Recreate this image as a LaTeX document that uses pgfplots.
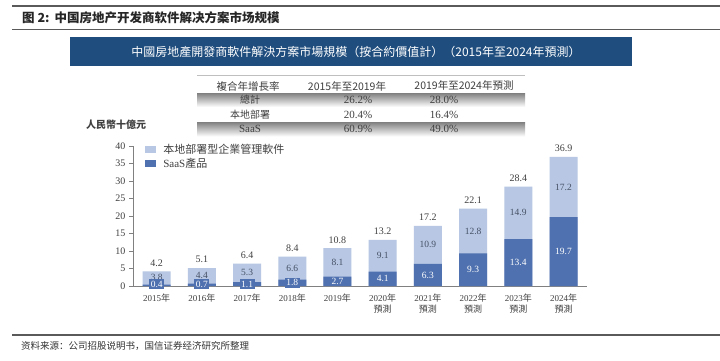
\documentclass[border=0pt]{standalone}
\usepackage{pgfplots}
\pgfplotsset{compat=1.18}
\usepackage{fontspec}
\setmainfont{Liberation Serif}
\newfontfamily\tcfont{Noto Sans CJK TC}
\newfontfamily\scfont{Noto Sans CJK SC}
\let\tc\tcfont
\definecolor{lightbar}{RGB}{183,199,228}
\definecolor{darkbar}{RGB}{79,113,175}
\definecolor{banner}{RGB}{31,77,126}
\definecolor{shade}{RGB}{232,237,245}
\definecolor{txt}{RGB}{64,64,64}
\definecolor{lbltxt}{RGB}{70,80,100}
\definecolor{rule}{RGB}{90,90,90}
\newcommand\Yr[1]{#1{\tc 年}}
\newcommand\Yp[1]{#1{\tc 年}\\{\tc 預測}}
\begin{document}
\begin{tikzpicture}[x=1pt,y=1pt]
\fill[white] (0,0) rectangle (720,360);
\path[use as bounding box] (0,0) rectangle (720,360);
% header
\draw[rule, line width=1.5pt] (12,354) -- (720,354);
\node[anchor=west, inner sep=0pt, text=black!85] at (22,342.5) {\scfont\bfseries\fontsize{12.5}{14}\selectfont 图 2:\hspace{5pt}中国房地产开发商软件解决方案市场规模};
\draw[rule, line width=1.2pt] (12,330.5) -- (720,330.5);
% banner
\fill[banner] (70,323) rectangle (632,294);
\node[text=white, inner sep=0pt] at (356,308.5) {\tc\fontsize{12}{13}\selectfont 中國房地產開發商軟件解決方案市場規模（按合約價值計）（2015年至2024年預測）};
% table
\draw[black!25, line width=0.6pt] (197,285) -- (525,285);
\fill[shade] (197,267) rectangle (525,253);
\fill[shade] (197,238) rectangle (525,223.5);
\begin{scope}[every node/.style={inner sep=0pt, text=txt}]
\node at (248,274) {\tc\fontsize{10.5}{12}\selectfont 複合年增長率};
\node at (347,274) {\tc\fontsize{10.5}{12}\selectfont 2015年至2019年};
\node at (464,274) {\tc\fontsize{10.5}{12}\selectfont 2019年至2024年預測};
\node at (250,260) {\tc\fontsize{10}{12}\selectfont 總計};
\node at (358,260) {\fontsize{11}{12}\selectfont 26.2\%};
\node at (444,260) {\fontsize{11}{12}\selectfont 28.0\%};
\node at (250,245) {\tc\fontsize{10}{12}\selectfont 本地部署};
\node at (358,245) {\fontsize{11}{12}\selectfont 20.4\%};
\node at (444,245) {\fontsize{11}{12}\selectfont 16.4\%};
\node at (250,231) {\fontsize{11}{12}\selectfont SaaS};
\node at (358,231) {\fontsize{11}{12}\selectfont 60.9\%};
\node at (444,231) {\fontsize{11}{12}\selectfont 49.0\%};
\node[anchor=west] at (86,235) {\tc\bfseries\fontsize{10}{12}\selectfont 人民幣十億元};
\end{scope}
% chart
\begin{axis}[
  at={(133pt,74pt)}, anchor=south west, scale only axis,
  width=454pt, height=140pt,
  xmin=-0.524, xmax=9.52, ymin=0, ymax=40,
  ytick={0,5,...,40}, xtick={0,...,9},
  xticklabels={\Yr{2015},\Yr{2016},\Yr{2017},\Yr{2018},\Yr{2019},{\Yp{2020}},{\Yp{2021}},{\Yp{2022}},{\Yp{2023}},{\Yp{2024}}},
  xticklabel style={align=center, font=\fontsize{9}{11.5}\selectfont, text=txt},
  yticklabel style={font=\fontsize{10}{11}\selectfont, text=txt},
  /pgf/number format/assume math mode=true,
  axis x line=bottom, axis y line=left,
  axis line style={-, black!50, line width=0.9pt},
  tick align=outside, major tick length=4pt,
  xtick style={draw=none}, ytick style={black!50, line width=0.7pt},
  clip=false,
  legend style={at={(0.02,1.045)}, anchor=north west, draw=none, fill=none,
    font=\fontsize{11}{12}\selectfont, text=txt, row sep=-1pt},
  legend cell align=left,
]
\addplot[ybar, bar width=28pt, bar shift=0pt, fill=lightbar, draw=none,
  legend image code/.code={\fill[lightbar] (0pt,-3.5pt) rectangle (11pt,3.5pt); \path (16pt,0pt);}]
  coordinates {(0,4.2) (1,5.1) (2,6.4) (3,8.4) (4,10.8) (5,13.2) (6,17.2) (7,22.1) (8,28.4) (9,36.9)};
\addlegendentry{{\tc 本地部署型企業管理軟件}}
\addplot[ybar, bar width=28pt, bar shift=0pt, fill=darkbar, draw=none,
  legend image code/.code={\fill[darkbar] (0pt,-3.5pt) rectangle (11pt,3.5pt); \path (16pt,0pt);}]
  coordinates {(0,0.4) (1,0.7) (2,1.1) (3,1.8) (4,2.7) (5,4.1) (6,6.3) (7,9.3) (8,13.4) (9,19.7)};
\addlegendentry{SaaS{\tc 產品}}
% on-premise labels
\addplot[forget plot, draw=none, mark=none, nodes near coords, point meta=explicit symbolic,
  every node near coord/.append style={anchor=center, font=\fontsize{9.5}{10}\selectfont, text=lbltxt}]
  coordinates {(0,2.4)[3.8] (1,2.9)[4.4] (2,3.75)[5.3] (3,5.1)[6.6] (4,6.75)[8.1] (5,8.65)[9.1] (6,11.75)[10.9] (7,15.7)[12.8] (8,20.9)[14.9] (9,28.3)[17.2]};
% SaaS labels
\addplot[forget plot, draw=none, mark=none, nodes near coords, point meta=explicit symbolic,
  every node near coord/.append style={anchor=center, font=\fontsize{9.5}{10}\selectfont, text=white, fill=darkbar, inner sep=1.5pt}]
  coordinates {(0,0.57)[0.4] (1,0.57)[0.7] (2,0.57)[1.1] (3,0.9)[1.8] (4,1.35)[2.7] (5,2.05)[4.1] (6,3.15)[6.3] (7,4.65)[9.3] (8,6.7)[13.4] (9,9.85)[19.7]};
% totals
\addplot[forget plot, draw=none, mark=none, nodes near coords, point meta=explicit symbolic,
  every node near coord/.append style={anchor=center, font=\fontsize{10}{11}\selectfont, text=txt}]
  coordinates {(0,6.6)[4.2] (1,7.5)[5.1] (2,8.8)[6.4] (3,10.8)[8.4] (4,13.2)[10.8] (5,15.6)[13.2] (6,19.6)[17.2] (7,24.5)[22.1] (8,30.8)[28.4] (9,39.3)[36.9]};
\end{axis}
% footer
\draw[rule, line width=1.2pt] (12,25) -- (720,25);
\node[anchor=west, inner sep=0pt, text=black!80] at (21,14) {\scfont\fontsize{9.5}{11}\selectfont 资料来源：公司招股说明书，国信证券经济研究所整理};
\end{tikzpicture}
\end{document}
